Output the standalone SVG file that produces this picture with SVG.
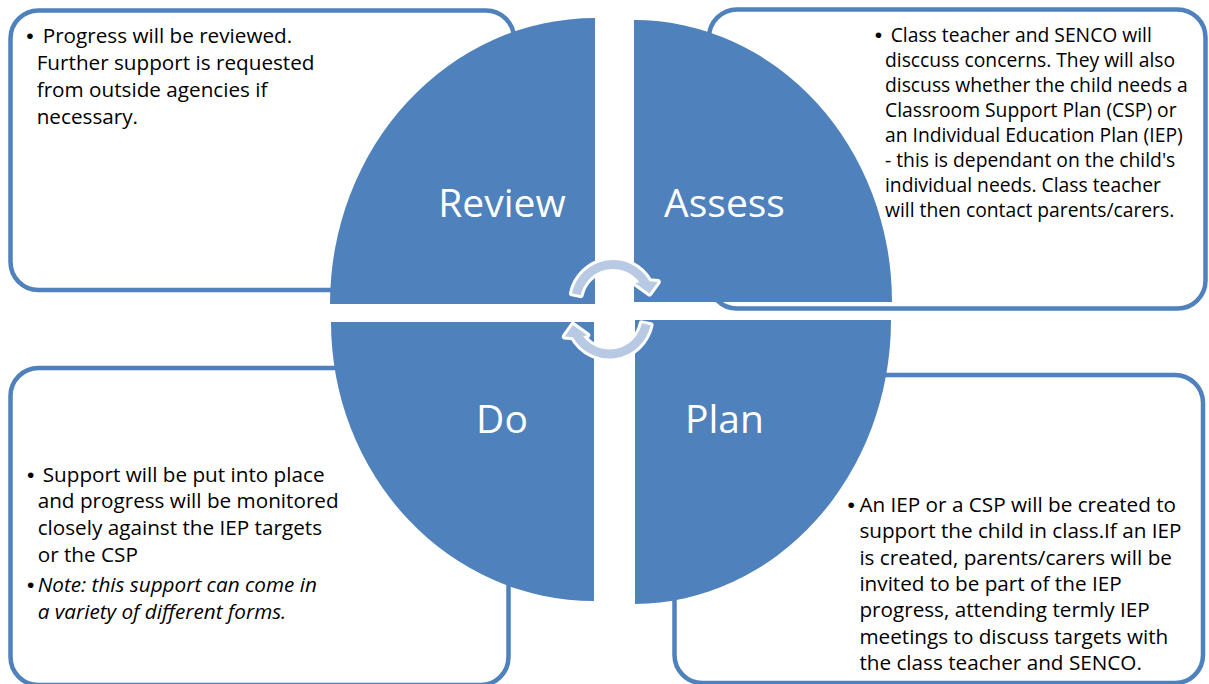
<svg xmlns="http://www.w3.org/2000/svg" xmlns:xlink="http://www.w3.org/1999/xlink" width="1209" height="684" viewBox="0 0 1209 684">
<style>
.box{fill:#FFFFFF;stroke:#4F81BD;stroke-width:4.5}
.pie{fill:#4F81BD}
.lbl{font-family:"Open Sans","Liberation Sans",sans-serif;font-size:39px;fill:#FFFFFF;text-anchor:middle}
.t{font-family:"Open Sans","Liberation Sans",sans-serif;font-size:20.7px;fill:#000000}
.ts{font-family:"Open Sans","Liberation Sans",sans-serif;font-size:19.3px;fill:#000000}
.b{font-family:"Liberation Sans",sans-serif;font-size:21px}
.arrow{fill:#B8C9E4;stroke:#FFFFFF;stroke-width:6;stroke-linejoin:round;paint-order:stroke}
</style>
<defs>
<path id="arc" d="M571.92,293.27 A42,42 0 0 1 649.53,281.26 L657.76,282.07 L649.54,293.56 L635.21,283.36 L639.42,282.23 A33,33 0 0 0 580.72,295.14 Z"/>
</defs>
<rect width="1209" height="684" fill="#FFFFFF"/>

<g id="review-box">
<rect class="box" x="10.5" y="10.5" width="503.5" height="279.5" rx="28"/>
</g>
<g id="assess-box">
<rect class="box" x="709" y="9.5" width="496.5" height="299" rx="28"/>
</g>
<g id="do-box">
<rect class="box" x="10.5" y="368" width="498" height="317" rx="28"/>
</g>
<g id="plan-box">
<rect class="box" x="674.5" y="375" width="528.5" height="308" rx="28"/>
</g>

<g id="review">
<path class="pie" d="M595,304 L330,304 A265,286 0 0 1 595,18 Z"/>
<text class="lbl" x="502" y="217">Review</text>
</g>
<g id="assess">
<path class="pie" d="M634,302 L634,20 A258,282 0 0 1 892,302 Z"/>
<text class="lbl" x="724.5" y="217">Assess</text>
</g>
<g id="plan">
<path class="pie" d="M635,320 L891,320 A258,284 0 0 1 635,604 Z"/>
<text class="lbl" x="724.5" y="433">Plan</text>
</g>
<g id="do">
<path class="pie" d="M594,322 L594,601 A263,279 0 0 1 331,322 Z"/>
<text class="lbl" x="502" y="433">Do</text>
</g>

<g id="connectors">
<use xlink:href="#arc" href="#arc" class="arrow"/>
<use xlink:href="#arc" href="#arc" class="arrow" transform="rotate(180 611.25 309.25)"/>
</g>

<g id="review-text">
<text class="t"><tspan class="b" x="26.3" y="43.3">•</tspan><tspan x="42.7" y="43.3">Progress will be reviewed.</tspan><tspan x="36.7" y="70.2">Further support is requested</tspan><tspan x="36.7" y="97.1">from outside agencies if</tspan><tspan x="36.7" y="124">necessary.</tspan></text>
</g>
<g id="assess-text">
<text class="ts"><tspan class="b" x="874.7" y="41.7">•</tspan><tspan x="890.7" y="41.7">Class teacher and SENCO will</tspan><tspan x="885" y="66.8">disccuss concerns. They will also</tspan><tspan x="885" y="91.9">discuss whether the child needs a</tspan><tspan x="885" y="117">Classroom Support Plan (CSP) or</tspan><tspan x="885" y="142.1">an Individual Education Plan (IEP)</tspan><tspan x="885" y="167.2">- this is dependant on the child's</tspan><tspan x="885" y="192.3">individual needs. Class teacher</tspan><tspan x="885" y="217.4">will then contact parents/carers.</tspan></text>
</g>
<g id="do-text">
<text class="t"><tspan class="b" x="27" y="481.7">•</tspan><tspan x="42.7" y="481.7">Support will be put into place</tspan><tspan x="37.7" y="508.4">and progress will be monitored</tspan><tspan x="37.7" y="535.1">closely against the IEP targets</tspan><tspan x="37.7" y="561.8">or the CSP</tspan></text>
<text class="t"><tspan class="b" x="27" y="592">•</tspan><tspan x="37.7" y="592" font-style="italic">Note: this support can come in</tspan><tspan x="37.7" y="618.7" font-style="italic">a variety of different forms.</tspan></text>
</g>
<g id="plan-text">
<text class="t"><tspan class="b" x="847.6" y="511.7">•</tspan><tspan x="859.4" y="511.7">An IEP or a CSP will be created to</tspan><tspan x="859.4" y="538.1">support the child in class.If an IEP</tspan><tspan x="859.4" y="564.5">is created, parents/carers will be</tspan><tspan x="859.4" y="590.9">invited to be part of the IEP</tspan><tspan x="859.4" y="617.3">progress, attending termly IEP</tspan><tspan x="859.4" y="643.7">meetings to discuss targets with</tspan><tspan x="859.4" y="670.1">the class teacher and SENCO.</tspan></text>
</g>
</svg>
